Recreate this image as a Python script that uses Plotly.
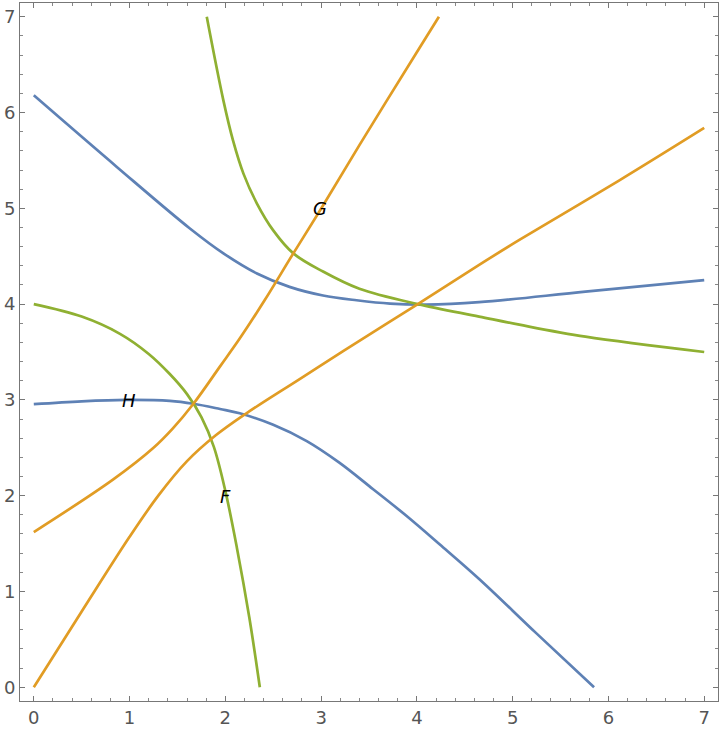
import plotly.graph_objects as go

# H (blue) branches
h1_x = [0, 0.87, 1.63, 1.98, 2.33, 2.67, 3.02, 3.37, 3.72, 4.1, 4.65, 5.76, 7.0]
h1_y = [6.18, 5.43, 4.79, 4.53, 4.32, 4.18, 4.09, 4.04, 4.005, 3.995, 4.02, 4.13, 4.25]
h2_x = [0, 0.5, 0.97, 1.42, 1.667, 1.945, 2.15, 2.5, 2.85, 3.19, 3.54, 3.89, 4.24, 4.65, 5.24, 5.85]
h2_y = [2.955, 2.985, 3.0, 2.99, 2.96, 2.905, 2.86, 2.74, 2.57, 2.345, 2.07, 1.79, 1.49, 1.13, 0.57, 0]

# F (green) branches
f1_x = [0, 0.5, 0.9, 1.2, 1.42, 1.6, 1.75, 1.88, 2.0, 2.12, 2.25, 2.36]
f1_y = [4.0, 3.87, 3.69, 3.48, 3.27, 3.06, 2.82, 2.51, 2.05, 1.46, 0.73, 0.0]
f2_x = [1.806, 1.98, 2.08, 2.19, 2.33, 2.50, 2.71, 3.02, 3.40, 4.01, 4.65, 5.07, 5.76, 7.0]
f2_y = [7.0, 6.125, 5.71, 5.36, 5.05, 4.77, 4.53, 4.34, 4.16, 4.0, 3.87, 3.785, 3.66, 3.50]

# G (orange) branches
g1_x = [0, 0.83, 1.25, 1.45, 1.667, 1.945, 2.15, 2.41, 2.71, 2.99, 3.40, 4.03, 4.23]
g1_y = [1.62, 2.17, 2.50, 2.70, 2.96, 3.35, 3.64, 4.04, 4.53, 4.98, 5.66, 6.68, 7.0]
g2_x = [0, 0.5, 1.0, 1.3, 1.6, 1.9, 2.22, 2.78, 3.23, 4.01, 4.65, 5.07, 6.11, 7.0]
g2_y = [0, 0.79, 1.57, 2.0, 2.36, 2.63, 2.86, 3.22, 3.51, 4.0, 4.41, 4.67, 5.29, 5.84]

labels = ["F", "G", "H"]
label_x = [2.0, 2.99, 0.99]
label_y = [1.99, 5.0, 2.99]

tick_vals = [0, 1, 2, 3, 4, 5, 6, 7]

BLUE = "#5E81B5"
ORANGE = "#E19C24"
GREEN = "#8FB032"

fig = go.Figure()
for xs, ys, c in [(h1_x, h1_y, BLUE), (h2_x, h2_y, BLUE),
                  (f1_x, f1_y, GREEN), (f2_x, f2_y, GREEN),
                  (g1_x, g1_y, ORANGE), (g2_x, g2_y, ORANGE)]:
    fig.add_trace(go.Scatter(x=xs, y=ys, mode="lines",
                             line=dict(color=c, width=2.7, shape="spline", smoothing=1.0),
                             showlegend=False, hoverinfo="skip"))

for t, lx, ly in zip(labels, label_x, label_y):
    fig.add_annotation(x=lx, y=ly, text="<i>" + t + "</i>", showarrow=False,
                       font=dict(family="DejaVu Sans", size=18, color="black"))

axis_common = dict(
    range=[-0.144, 7.144], tickvals=tick_vals, ticktext=[str(v) for v in tick_vals],
    showgrid=False, zeroline=False, showline=True, linecolor="#777777", linewidth=1,
    mirror="allticks", ticks="inside", ticklen=5, tickwidth=1, tickcolor="#777777",
    minor=dict(ticks="inside", dtick=0.2, tick0=0, ticklen=3, tickcolor="#888888", tickwidth=1),
    tickfont=dict(family="DejaVu Sans", size=18, color="#555555"),
    automargin=False,
)

fig.update_xaxes(**axis_common)
fig.update_yaxes(**axis_common)

fig.update_layout(
    width=720, height=732,
    margin=dict(l=20, r=2, t=3, b=31),
    plot_bgcolor="white", paper_bgcolor="white",
)

fig.write_html("out.html", config={"displayModeBar": False},
               post_script="document.body.style.margin='0';document.body.style.overflow='hidden';")
